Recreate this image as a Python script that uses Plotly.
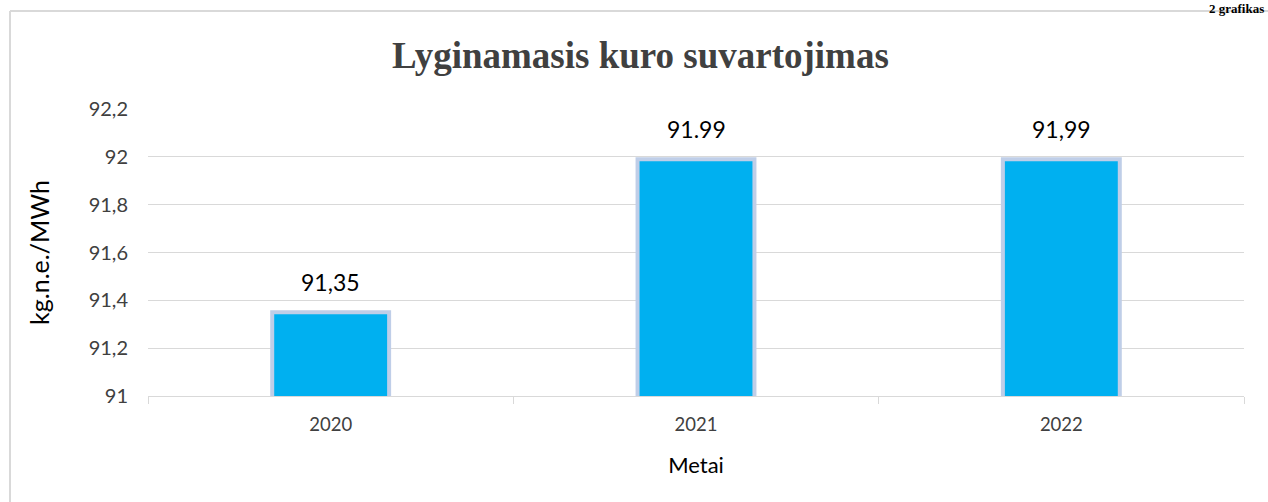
import plotly.graph_objects as go

years = ["2020", "2021", "2022"]
values = [91.35, 91.99, 91.99]
value_labels = ["91,35", "91.99", "91,99"]
y_ticks = [91, 91.2, 91.4, 91.6, 91.8, 92, 92.2]
y_tick_labels = ["91", "91,2", "91,4", "91,6", "91,8", "92", "92,2"]

W, H = 1268, 502
L, R, T, B = 148, 24, 109, 106
pw, ph = W - L - R, H - T - B

def px(x):
    return (x - L) / pw

def py(y):
    return (H - B - y) / ph

FONT = "Lato, Calibri, Carlito, sans-serif"
SERIF = "Liberation Serif, Times New Roman, serif"
xpos = list(range(len(years)))

fig = go.Figure()
fig.add_trace(go.Bar(
    x=xpos, y=values, width=0.32,
    marker=dict(color="#00b0f0", line=dict(color="#bfcee8", width=4)),
    hoverinfo="skip",
))

for xi, v, t in zip(xpos, values, value_labels):
    fig.add_annotation(x=xi, y=v, text=t, showarrow=False, yshift=30,
                       font=dict(family=FONT, size=23, color="#000000"))

fig.add_annotation(xref="paper", yref="paper", x=px(640), y=py(56),
                   text="<b>Lyginamasis kuro suvartojimas</b>", showarrow=False,
                   xanchor="center", yanchor="middle",
                   font=dict(family=SERIF, size=37, color="#404040"))

fig.add_annotation(xref="paper", yref="paper", x=px(1266), y=py(-1),
                   text="<b>2 grafikas</b>", showarrow=False,
                   xanchor="right", yanchor="top",
                   font=dict(family=SERIF, size=13, color="#000000"))

# outer frame
fig.add_shape(type="line", xref="paper", yref="paper", x0=px(10), x1=px(10), y0=py(11), y1=py(520),
              line=dict(color="#d9d9d9", width=2))
fig.add_shape(type="line", xref="paper", yref="paper", x0=px(10), x1=px(1300), y0=py(11), y1=py(11),
              line=dict(color="#d9d9d9", width=2))

fig.update_layout(
    width=W, height=H,
    margin=dict(l=L, r=R, t=T, b=B, autoexpand=False),
    paper_bgcolor="white", plot_bgcolor="white",
    showlegend=False,
    xaxis=dict(
        range=[-0.5, len(years) - 0.5], tickvals=xpos, ticktext=years, ticks="",
        minor=dict(tick0=-0.5, dtick=1, ticks="outside", ticklen=7, tickcolor="#d9d9d9", showgrid=False),
        showline=True, linecolor="#d9d9d9", linewidth=1, showgrid=False, zeroline=False,
        ticklabelstandoff=12,
        tickfont=dict(family=FONT, size=18.5, color="#404040"),
        title=dict(text="Metai", font=dict(family=FONT, size=22, color="#000000"), standoff=23),
    ),
    yaxis=dict(
        range=[91, 92.2], tickvals=y_ticks, ticktext=y_tick_labels,
        showgrid=True, gridcolor="#d9d9d9", gridwidth=1, zeroline=False, showline=False,
        ticks="", ticklabelstandoff=19,
        tickfont=dict(family=FONT, size=20, color="#404040"),
        title=dict(text="kg.n.e./MWh", font=dict(family=FONT, size=25, color="#000000"), standoff=31),
    ),
)

fig.write_html("out.html", config={"displayModeBar": False},
               post_script="document.body.style.margin='0';document.body.style.overflow='hidden';")
